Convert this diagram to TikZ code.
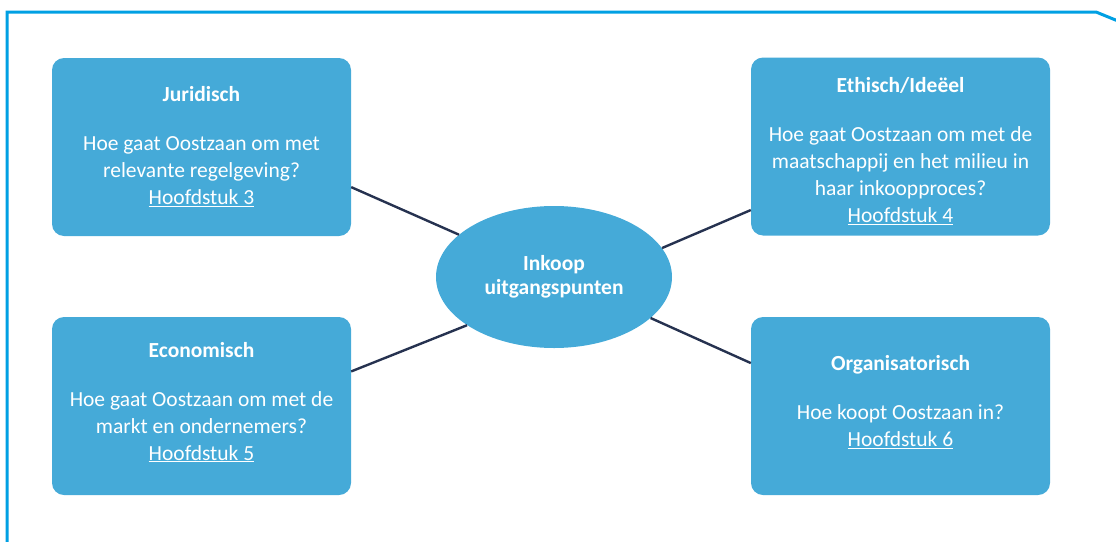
\documentclass[tikz,border=0pt]{standalone}
\usepackage{fontspec}
\setmainfont{Carlito}
\usepackage{xcolor}
\usetikzlibrary{shapes.geometric}
\definecolor{boxblue}{RGB}{69,170,216}
\definecolor{frameblue}{RGB}{0,160,227}
\definecolor{linknavy}{RGB}{38,50,80}
\tikzstyle{topic} = [rectangle, 
rounded corners=12pt,
minimum width=299pt, 
minimum height=178pt, 
align=center, 
text=white,
fill=boxblue,
font=\fontsize{21.5}{27}\selectfont]
\tikzstyle{hub} = [ellipse, 
minimum width=236pt, 
minimum height=142pt, 
inner sep=0pt,
align=center, 
text=white,
fill=boxblue,
font=\fontsize{21.5}{24}\selectfont\bfseries]
\tikzstyle{link} = [line width=2.4pt, draw=linknavy]
\newcommand{\kop}[1]{\textbf{#1}\\[22pt]}

\begin{document}
\begin{tikzpicture}[x=1pt, y=-1pt]

  \useasboundingbox (0,0) rectangle (1116,541);
  \draw [frameblue, line width=3pt] (7,545) -- (7,12) -- (1096,12) -- (1118,21);

  \node (hub) [hub] at (554,277) {Inkoop\\uitgangspunten};
  \node (jur) [topic] at (201.5,147) {\kop{Juridisch}Hoe gaat Oostzaan om met\\relevante regelgeving?\\\underline{Hoofdstuk 3}};
  \node (eth) [topic] at (900.5,146.5) {\kop{\rule{0pt}{24pt}Ethisch/Ideëel}Hoe gaat Oostzaan om met de\\maatschappij en het milieu in\\haar inkoopproces?\\\underline{Hoofdstuk 4}};
  \node (eco) [topic] at (201.5,406) {\kop{Economisch}Hoe gaat Oostzaan om met de\\markt en ondernemers?\\\underline{Hoofdstuk 5}\rule[-10pt]{0pt}{0pt}};
  \node (org) [topic] at (900.5,406) {\kop{Organisatorisch}Hoe koopt Oostzaan in?\\\underline{Hoofdstuk 6}\rule[-10pt]{0pt}{0pt}};

  \draw [link] (jur.-15) -- (hub.156);
  \draw [link] (eth.203) -- (hub.15);
  \draw [link] (eco.13) -- (hub.209);
  \draw [link] (org.164) -- (hub.-23);

\end{tikzpicture}
\end{document}
